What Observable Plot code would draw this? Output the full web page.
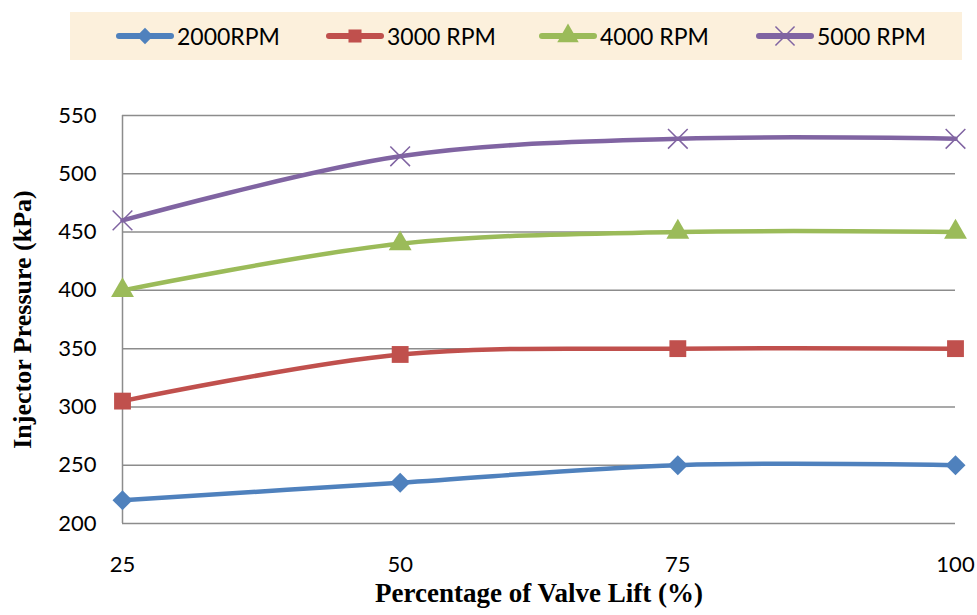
<!DOCTYPE html>
<html>
<head>
<meta charset="utf-8">
<script src="https://cdn.jsdelivr.net/npm/d3@7"></script>
<script src="https://cdn.jsdelivr.net/npm/@observablehq/plot@0.6"></script>
<style>
  html, body { margin: 0; padding: 0; background: #fff; }
  #wrap { position: relative; width: 977px; height: 615px; overflow: hidden; }
  #legend { position: absolute; left: 70px; top: 12px; width: 892px; height: 48px; background: #fcf0dc; }
  .item { position: absolute; top: 0; height: 48px; display: flex; align-items: center; font-family: Lato, "Open Sans", sans-serif; font-size: 23px; color: #000; }
  #chart { position: absolute; left: 0; top: 72px; }
</style>
</head>
<body>
<div id="wrap">
  <div id="legend"></div>
  <div id="chart"></div>
</div>
<script>
const valveLift = [25, 50, 75, 100];
const seriesNames = ["2000RPM", "3000 RPM", "4000 RPM", "5000 RPM"];
const rpm2000 = [220, 235, 250, 250];
const rpm3000 = [305, 345, 350, 350];
const rpm4000 = [400, 440, 450, 450];
const rpm5000 = [460, 515, 530, 530];
const yTicks = [200, 250, 300, 350, 400, 450, 500, 550];
const xTicks = [25, 50, 75, 100];
const colors = ["#4f81bd", "#c0504d", "#9bbb59", "#8064a2"];
const symbols = ["diamond2", "square", "triangle", "times"];
const symbolR = [9, 9.5, 8.5, 9];

const allValues = [rpm2000, rpm3000, rpm4000, rpm5000];
const data = [];
seriesNames.forEach((s, i) => {
  valveLift.forEach((x, j) => data.push({series: s, lift: x, pressure: allValues[i][j], idx: i}));
});

const tickFont = "Lato, 'Open Sans', sans-serif";
const titleFont = "'Liberation Serif', 'Times New Roman', serif";

const marks = [
  Plot.ruleY(yTicks, {stroke: "#8c8c8c", strokeWidth: 1.5}),
  Plot.ruleX([25], {stroke: "#8c8c8c", strokeWidth: 1.5}),
  Plot.axisY({ticks: yTicks, tickSize: 0, tickPadding: 26, fontSize: 22, fontFamily: tickFont, label: null}),
  Plot.axisX({ticks: xTicks, tickSize: 0, tickPadding: 33, fontSize: 22, fontFamily: tickFont, label: null}),
];
seriesNames.forEach((s, i) => {
  const d = data.filter(r => r.series === s);
  marks.push(Plot.line(d, {x: "lift", y: "pressure", stroke: colors[i], strokeWidth: 4.5, curve: "catmull-rom"}));
});
seriesNames.forEach((s, i) => {
  const d = data.filter(r => r.series === s);
  if (symbols[i] === "times") {
    marks.push(Plot.dot(d, {x: "lift", y: "pressure", symbol: "times", r: symbolR[i], stroke: colors[i], strokeWidth: 1.5}));
  } else {
    marks.push(Plot.dot(d, {x: "lift", y: "pressure", symbol: symbols[i], r: symbolR[i], fill: colors[i], stroke: "none"}));
  }
});
marks.push(Plot.text(["Percentage of Valve Lift (%)"], {frameAnchor: "bottom", dy: 78, fontSize: 27, fontWeight: "bold", fontFamily: titleFont, fill: "#000"}));
marks.push(Plot.text(["Injector Pressure (kPa)"], {frameAnchor: "left", dx: -100, rotate: -90, textAnchor: "middle", fontSize: 26, fontWeight: "bold", fontFamily: titleFont, fill: "#000"}));

const chart = Plot.plot({
  width: 977,
  height: 543,
  marginLeft: 122,
  marginRight: 22,
  marginTop: 43,
  marginBottom: 92,
  x: {domain: [25, 100]},
  y: {domain: [200, 550]},
  style: {background: "transparent", overflow: "visible"},
  marks
});
document.getElementById("chart").appendChild(chart);

// legend
const legend = document.getElementById("legend");
const itemX = [46, 256, 469, 686];
seriesNames.forEach((s, i) => {
  const item = document.createElement("div");
  item.className = "item";
  item.style.left = itemX[i] + "px";
  const svg = d3.create("svg").attr("width", 58).attr("height", 30).style("margin-right", "3px");
  svg.append("line").attr("x1", 3).attr("x2", 55).attr("y1", 15).attr("y2", 15).attr("stroke", colors[i]).attr("stroke-width", 6).attr("stroke-linecap", "round");
  const sym = {diamond2: d3.symbolDiamond2, square: d3.symbolSquare, triangle: d3.symbolTriangle, times: d3.symbolTimes}[symbols[i]];
  const path = svg.append("path").attr("transform", "translate(29,15)").attr("d", d3.symbol(sym, symbols[i] === "times" ? 240 : (symbols[i] === "triangle" ? 200 : 170))());
  if (symbols[i] === "times") path.attr("fill", "none").attr("stroke", colors[i]).attr("stroke-width", 1.5);
  else path.attr("fill", colors[i]);
  item.appendChild(svg.node());
  const t = document.createElement("span");
  t.textContent = s;
  item.appendChild(t);
  legend.appendChild(item);
});
</script>
</body>
</html>
